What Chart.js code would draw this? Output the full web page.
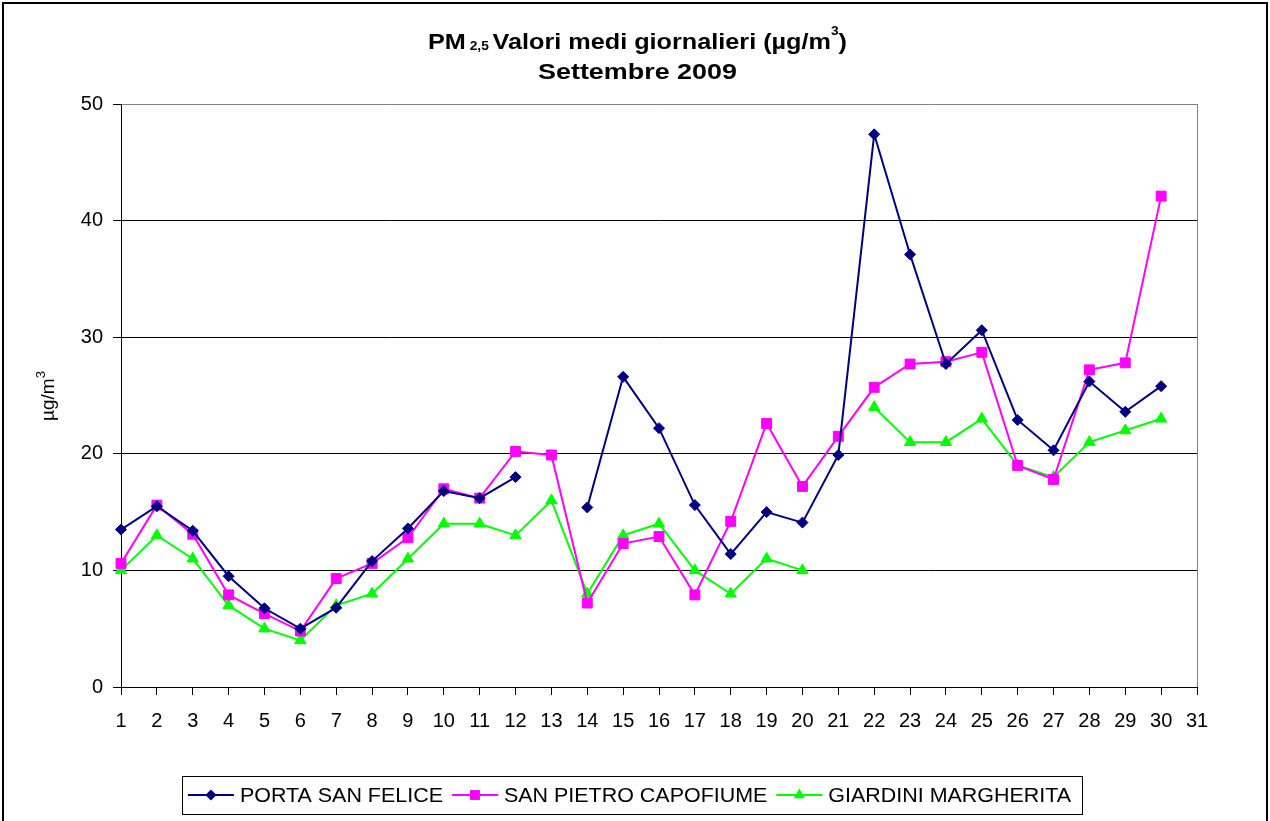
<!DOCTYPE html>
<html>
<head>
<meta charset="utf-8">
<script src="https://cdn.jsdelivr.net/npm/chart.js@4/dist/chart.umd.min.js"></script>
<style>
html,body{margin:0;padding:0;background:#fff;}
canvas{display:block;}
</style>
</head>
<body>
<canvas id="c" width="1270" height="821"></canvas>
<script>
const days = ['1','2','3','4','5','6','7','8','9','10','11','12','13','14','15','16','17','18','19','20','21','22','23','24','25','26','27','28','29','30','31'];
const portaSanFelice = [13.5,15.5,13.4,9.5,6.75,5.0,6.8,10.8,13.6,16.8,16.2,18.0,null,15.4,26.6,22.2,15.6,11.4,15.0,14.1,19.9,47.4,37.1,27.7,30.6,22.9,20.3,26.2,23.6,25.8,null];
const sanPietroCapofiume = [10.6,15.6,13.1,7.9,6.3,4.8,9.3,10.6,12.8,17.0,16.2,20.2,19.9,7.2,12.3,12.9,7.9,14.2,22.6,17.2,21.5,25.7,27.7,27.9,28.7,19.0,17.8,27.2,27.8,42.1,null];
const giardiniMargherita = [10,13,11,7,5,4,7,8,11,14,14,13,16,8,13,14,10,8,11,10,null,24,21,21,23,19,18,21,22,23,null];
const yTicks = [0,10,20,30,40,50];
const seriesNames = ['PORTA SAN FELICE','SAN PIETRO CAPOFIUME','GIARDINI MARGHERITA'];

const FONT = "'Liberation Sans', Arial, sans-serif";

function drawParts(ctx, parts, cx, baseY, targetW) {
  let w = 0;
  parts.forEach(p => { ctx.font = p.f; p.w = ctx.measureText(p.t).width; w += p.w; });
  const sx = targetW ? targetW / w : 1;
  ctx.save();
  ctx.translate(cx - (w * sx) / 2, baseY);
  ctx.scale(sx, 1);
  let x = 0;
  ctx.textAlign = 'left';
  ctx.textBaseline = 'alphabetic';
  parts.forEach(p => { ctx.font = p.f; ctx.fillText(p.t, x, p.dy); x += p.w; });
  ctx.restore();
}

function drawMarker(ctx, style, r, x, y) {
  if (style === 'rectRot') {
    ctx.moveTo(x, y - r); ctx.lineTo(x + r, y); ctx.lineTo(x, y + r); ctx.lineTo(x - r, y); ctx.closePath();
  } else if (style === 'rect') {
    const s = r * Math.SQRT1_2;
    ctx.rect(x - s, y - s, 2 * s, 2 * s);
  } else {
    ctx.moveTo(x, y - r); ctx.lineTo(x + r * 0.866, y + r * 0.5); ctx.lineTo(x - r * 0.866, y + r * 0.5); ctx.closePath();
  }
}

const extras = {
  id: 'extras',
  beforeDraw(chart) {
    const ctx = chart.ctx;
    ctx.save();
    ctx.fillStyle = '#fff';
    ctx.fillRect(0, 0, chart.width, chart.height);
    ctx.restore();
  },
  afterDraw(chart) {
    const ctx = chart.ctx;
    const ca = chart.chartArea;
    ctx.save();
    // plot area right border
    ctx.strokeStyle = '#808080';
    ctx.lineWidth = 1;
    ctx.beginPath();
    ctx.moveTo(Math.round(ca.right) + 0.5, ca.top);
    ctx.lineTo(Math.round(ca.right) + 0.5, ca.bottom);
    ctx.stroke();
    // outer frame
    ctx.strokeStyle = '#000';
    ctx.lineWidth = 2;
    ctx.strokeRect(3, 3, chart.width - 6, chart.height + 10);

    // title
    ctx.fillStyle = '#000';
    const big = 'bold 22px ' + FONT, small = 'bold 12px ' + FONT;
    drawParts(ctx, [
      {t:'PM', f:big, dy:0},
      {t:' 2,5 ', f:small, dy:1},
      {t:'Valori medi giornalieri (\u00b5g/m', f:big, dy:0},
      {t:'3', f:small, dy:-14},
      {t:')', f:big, dy:0}
    ], 637.5, 49, 419);
    drawParts(ctx, [{t:'Settembre 2009', f:big, dy:0}], 637.5, 79, 199);

    // y axis title
    ctx.save();
    ctx.translate(54, 396);
    ctx.rotate(-Math.PI / 2);
    drawParts(ctx, [{t:'\u00b5g/m', f:'19px ' + FONT, dy:0}, {t:'3', f:'13px ' + FONT, dy:-9}], 0, 0, 0);
    ctx.restore();

    // legend
    const lf = '19.5px ' + FONT;
    const tsx = 1.1;
    ctx.font = lf;
    const lineW = 46, gapT = 6, gapItem = 9, padL = 6, padR = 11;
    const ds = chart.data.datasets;
    const tw = ds.map(d => ctx.measureText(d.label).width * tsx);
    let total = padL + padR;
    tw.forEach((t, i) => { total += lineW + gapT + t + (i < tw.length - 1 ? gapItem : 0); });
    const bx = 632 - total / 2, by = 776, bh = 38;
    ctx.strokeStyle = '#000';
    ctx.lineWidth = 1;
    ctx.strokeRect(Math.round(bx) + 0.5, by + 0.5, Math.round(total), bh);
    let lx = bx + padL;
    const ly = 795;
    ds.forEach((d, i) => {
      ctx.strokeStyle = d.borderColor;
      ctx.lineWidth = 2;
      ctx.beginPath();
      ctx.moveTo(lx, ly);
      ctx.lineTo(lx + lineW, ly);
      ctx.stroke();
      ctx.fillStyle = d.backgroundColor;
      ctx.beginPath();
      drawMarker(ctx, d.pointStyle, d.pointRadius, lx + lineW / 2, ly);
      ctx.fill();
      ctx.save();
      ctx.translate(lx + lineW + gapT, ly + 7);
      ctx.scale(tsx, 1);
      ctx.fillStyle = '#000';
      ctx.textAlign = 'left';
      ctx.textBaseline = 'alphabetic';
      ctx.font = lf;
      ctx.fillText(d.label, 0, 0);
      ctx.restore();
      lx += lineW + gapT + tw[i] + gapItem;
    });
    ctx.restore();
  }
};

new Chart(document.getElementById('c'), {
  type: 'line',
  data: {
    labels: days,
    datasets: [
      {label: seriesNames[0], data: portaSanFelice, borderColor: '#000080', backgroundColor: '#000080', borderWidth: 2, pointStyle: 'rectRot', pointRadius: 5.5, pointBorderWidth: 1, spanGaps: false, tension: 0},
      {label: seriesNames[1], data: sanPietroCapofiume, borderColor: '#FF00FF', backgroundColor: '#FF00FF', borderWidth: 2, pointStyle: 'rect', pointRadius: 7, pointBorderWidth: 1, spanGaps: false, tension: 0},
      {label: seriesNames[2], data: giardiniMargherita, borderColor: '#00FF00', backgroundColor: '#00FF00', borderWidth: 2, pointStyle: 'triangle', pointRadius: 6.5, pointBorderWidth: 1, spanGaps: false, tension: 0}
    ]
  },
  options: {
    responsive: false,
    animation: false,
    devicePixelRatio: 1,
    layout: {padding: {left: 0, top: 104, right: 73, bottom: 84}},
    plugins: {legend: {display: false}, title: {display: false}, tooltip: {enabled: false}},
    scales: {
      x: {
        type: 'category',
        offset: false,
        grid: {drawOnChartArea: false, drawTicks: true, tickLength: 8, color: '#000', tickColor: '#000'},
        border: {display: true, color: '#000', width: 1},
        ticks: {color: '#000', font: {family: FONT, size: 20}, padding: 14, maxRotation: 0, autoSkip: false},
        afterFit(s) { s.height = 50; }
      },
      y: {
        min: 0, max: 50,
        afterBuildTicks(s) { s.ticks = yTicks.map(v => ({value: v})); },
        grid: {color: ctx => (ctx.tick && ctx.tick.value === 50 ? '#808080' : '#000'), lineWidth: 1, drawTicks: true, tickLength: 8, tickColor: '#000'},
        border: {display: true, color: '#000', width: 1},
        ticks: {color: '#000', font: {family: FONT, size: 20}, padding: 10},
        afterFit(s) { s.width = 121; }
      }
    }
  },
  plugins: [extras]
});
</script>
</body>
</html>
